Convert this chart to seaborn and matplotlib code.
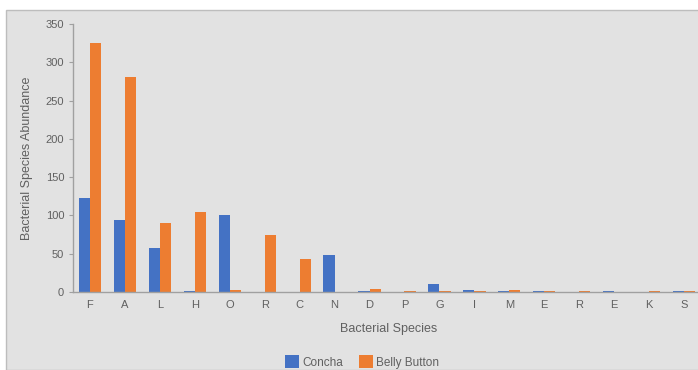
import matplotlib
matplotlib.use("Agg")
import matplotlib.pyplot as plt
from matplotlib.patches import Rectangle
import pandas as pd
import seaborn as sns

# Abundance per bacterial species (axis shows the species initials)
species_labels = ["F", "A", "L", "H", "O", "R", "C", "N", "D",
                  "P", "G", "I", "M", "E", "R", "E", "K", "S"]
concha = [123, 94, 57, 1, 100, 0.5, 0.5, 48, 1,
          0.5, 11, 2, 1, 1, 0.5, 1, 0.5, 1]
belly_button = [325, 281, 90, 104, 2, 74, 43, 0.5, 4,
                1, 1, 1, 2, 1, 1, 0.5, 1, 1]
series_names = ["Concha", "Belly Button"]
palette = ["#4472C4", "#ED7D31"]
y_ticks = [0, 50, 100, 150, 200, 250, 300, 350]

rows = []
for i in range(len(species_labels)):
    rows.append({"slot": i, "series": series_names[0], "abundance": concha[i]})
    rows.append({"slot": i, "series": series_names[1], "abundance": belly_button[i]})
df = pd.DataFrame(rows)

sns.set_theme(style="white")
plt.rcParams["font.family"] = ["Liberation Sans", "DejaVu Sans"]

W, H = 698, 370
fig = plt.figure(figsize=(W / 100, H / 100), dpi=100)
fig.patch.set_facecolor("white")
# grey chart panel with a thin frame
fig.patches.append(Rectangle((6 / W, 0), 1, 1 - 10 / H, transform=fig.transFigure,
                             facecolor="#E2E2E2", edgecolor="#BDBDBD", linewidth=1.0,
                             zorder=-5))

ax = fig.add_axes([72.5 / W, (H - 292) / H, 1 - 72.5 / W + 0.01, (292 - 24) / H])
ax.set_facecolor("none")
ax.set_zorder(2)

sns.barplot(data=df, x="slot", y="abundance", hue="series", order=list(range(len(species_labels))),
            hue_order=series_names, palette=palette, width=0.64, gap=0,
            errorbar=None, saturation=1, linewidth=0, ax=ax, legend=True)

ax.set_xlim(-0.5, 17.6)
ax.set_ylim(0, 350)
ax.set_yticks(y_ticks)
ax.set_yticklabels([str(v) for v in y_ticks])
ax.set_xticks(range(len(species_labels)))
ax.set_xticklabels(species_labels)

tick_color = "#606060"
ax.tick_params(axis="y", length=3, width=0.8, color="#A0A0A0", labelsize=8,
               labelcolor=tick_color, pad=3, left=True)
ax.tick_params(axis="x", length=0, labelsize=8, labelcolor=tick_color, pad=6)

for side in ["top", "right"]:
    ax.spines[side].set_visible(False)
for side in ["left", "bottom"]:
    ax.spines[side].set_color("#A0A0A0")
    ax.spines[side].set_linewidth(1.0)

ax.set_xlabel("Bacterial Species", fontsize=9, color="#606060", labelpad=9)
ax.set_ylabel("Bacterial Species Abundance", fontsize=9, color="#606060", labelpad=9)

handles, labels = ax.get_legend_handles_labels()
ax.get_legend().remove()
fig.legend(handles, labels, loc="center", bbox_to_anchor=(362 / W, 1 - 362 / H),
           ncol=2, frameon=False, fontsize=8.5, labelcolor="#606060",
           handlelength=1.2, handleheight=1.2, handletextpad=0.3, columnspacing=1.3)

fig.savefig("out.png", dpi=100)
